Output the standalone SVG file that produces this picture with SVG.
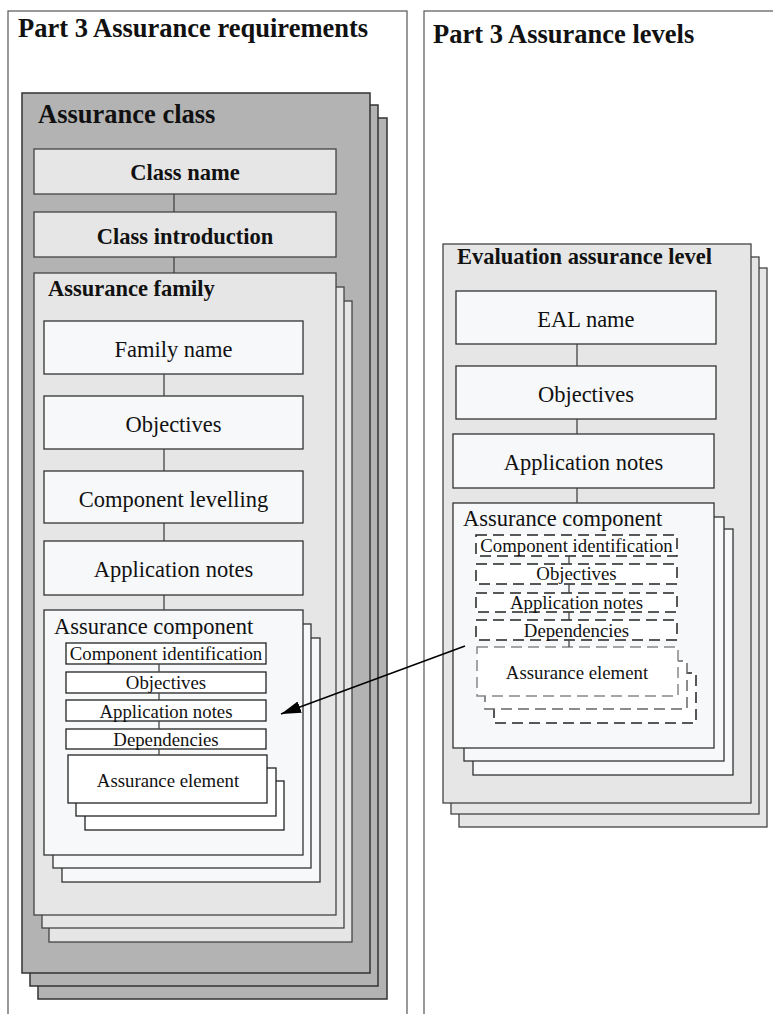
<svg xmlns="http://www.w3.org/2000/svg" width="773" height="1014" viewBox="0 0 773 1014">
<defs>
<style>
.panel{fill:#fff;stroke:#555;stroke-width:1.2}
.cls{fill:#b3b3b3;stroke:#333;stroke-width:1.5}
.fam{fill:#e6e6e6;stroke:#444;stroke-width:1.3}
.lt{fill:#f7f8fa;stroke:#333;stroke-width:1.3}
.wh{fill:#fff;stroke:#222;stroke-width:1.3}
.dsh{fill:#fff;stroke:#222;stroke-width:1.5;stroke-dasharray:11 6}
.con{stroke:#444;stroke-width:1.3;fill:none}
text{font-family:"Liberation Serif","Times New Roman",serif;fill:#111}
.h1{font-size:26.5px;font-weight:bold}
.h2{font-size:22.5px;font-weight:bold}
.r2{font-size:22.5px}
.r3{font-size:18.8px}
.c{text-anchor:middle}
</style>
<marker id="ah" viewBox="0 0 20 12" refX="20" refY="6" markerWidth="20" markerHeight="12" markerUnits="userSpaceOnUse" orient="auto">
<path d="M0,0 L20,6 L0,12 Z" fill="#000"/>
</marker>
</defs>

<g id="panel-left">
<rect class="panel" x="8" y="11" width="399" height="1020"/>
<text class="h1" x="18" y="37">Part 3 Assurance requirements</text>
</g>
<g id="panel-right">
<rect class="panel" x="424" y="11" width="360" height="1020"/>
<text class="h1" x="433" y="43">Part 3 Assurance levels</text>
</g>

<g id="assurance-class">
<rect class="cls" x="38" y="118" width="349" height="881"/>
<rect class="cls" x="30" y="105" width="348" height="881"/>
<rect class="cls" x="22" y="93" width="348" height="880"/>
<text class="h1" x="38" y="123">Assurance class</text>
</g>
<g id="class-name">
<rect class="fam" x="34" y="149" width="302" height="45"/>
<text class="h2 c" x="185" y="180">Class name</text>
</g>
<g id="class-introduction">
<rect class="fam" x="34" y="212" width="302" height="45"/>
<text class="h2 c" x="185" y="244">Class introduction</text>
</g>

<g id="assurance-family">
<rect class="fam" x="49" y="301" width="303" height="641"/>
<rect class="fam" x="42" y="287" width="302" height="641"/>
<rect class="fam" x="34" y="273" width="302" height="642"/>
<text class="h2" x="48" y="296">Assurance family</text>
</g>
<g id="family-name">
<rect class="lt" x="44" y="321" width="259" height="53"/>
<text class="r2 c" x="173.5" y="357">Family name</text>
</g>
<g id="family-objectives">
<rect class="lt" x="44" y="396" width="259" height="53"/>
<text class="r2 c" x="173.5" y="432">Objectives</text>
</g>
<g id="component-levelling">
<rect class="lt" x="44" y="471" width="259" height="52"/>
<text class="r2 c" x="173.5" y="507">Component levelling</text>
</g>
<g id="family-application-notes">
<rect class="lt" x="44" y="541" width="259" height="54"/>
<text class="r2 c" x="173.5" y="577">Application notes</text>
</g>

<g id="assurance-component-left">
<rect class="lt" x="62" y="638" width="258" height="244"/>
<rect class="lt" x="53" y="624" width="258" height="244"/>
<rect class="lt" x="44" y="610" width="259" height="245"/>
<text class="r2" x="54" y="634">Assurance component</text>
</g>
<g id="left-component-identification">
<rect class="wh" x="66" y="643" width="200" height="21"/>
<text class="r3 c" x="166" y="660">Component identification</text>
</g>
<g id="left-objectives">
<rect class="wh" x="66" y="672" width="200" height="21"/>
<text class="r3 c" x="166" y="689">Objectives</text>
</g>
<g id="left-application-notes">
<rect class="wh" x="66" y="700" width="200" height="21"/>
<text class="r3 c" x="166" y="718">Application notes</text>
</g>
<g id="left-dependencies">
<rect class="wh" x="66" y="729" width="200" height="20"/>
<text class="r3 c" x="166" y="746">Dependencies</text>
</g>
<g id="left-assurance-element">
<rect class="wh" x="85" y="781" width="199" height="49"/>
<rect class="wh" x="76" y="768" width="200" height="48"/>
<rect class="wh" x="68" y="755" width="199" height="48"/>
<text class="r3 c" x="168" y="787">Assurance element</text>
</g>

<g id="evaluation-assurance-level">
<rect class="fam" x="459" y="268" width="308" height="559"/>
<rect class="fam" x="451" y="257" width="308" height="557"/>
<rect class="fam" x="443" y="244" width="308" height="559"/>
<text class="h2" x="457" y="264">Evaluation assurance level</text>
</g>
<g id="eal-name">
<rect class="lt" x="456" y="291" width="260" height="53"/>
<text class="r2 c" x="586" y="327">EAL name</text>
</g>
<g id="eal-objectives">
<rect class="lt" x="456" y="366" width="260" height="53"/>
<text class="r2 c" x="586" y="402">Objectives</text>
</g>
<g id="eal-application-notes">
<rect class="lt" x="453" y="434" width="261" height="54"/>
<text class="r2 c" x="583.5" y="470">Application notes</text>
</g>

<g id="assurance-component-right">
<rect class="lt" x="473" y="529" width="260" height="246"/>
<rect class="lt" x="464" y="517" width="260" height="244"/>
<rect class="lt" x="453" y="503" width="261" height="245"/>
<text class="r2" x="463" y="526">Assurance component</text>
</g>
<g id="right-component-identification">
<rect class="dsh" x="476" y="535" width="201" height="21"/>
<text class="r3 c" x="576.5" y="552">Component identification</text>
</g>
<g id="right-objectives">
<rect class="dsh" x="476" y="564" width="201" height="20"/>
<text class="r3 c" x="576.5" y="580">Objectives</text>
</g>
<g id="right-application-notes">
<rect class="dsh" x="476" y="593" width="201" height="19"/>
<text class="r3 c" x="576.5" y="609">Application notes</text>
</g>
<g id="right-dependencies">
<rect class="dsh" x="476" y="620" width="201" height="20"/>
<text class="r3 c" x="576.5" y="637">Dependencies</text>
</g>
<g id="right-assurance-element">
<rect class="dsh" x="494" y="673" width="202" height="50" style="stroke:#222"/>
<rect class="dsh" x="485" y="661" width="202" height="48" style="stroke:#666"/>
<rect class="dsh" x="477" y="647" width="201" height="49" style="stroke:#888"/>
<text class="r3 c" x="577" y="679">Assurance element</text>
</g>

<g id="connectors">
<line class="con" x1="174" y1="194" x2="174" y2="212"/>
<line class="con" x1="174" y1="257" x2="174" y2="273"/>
<line class="con" x1="164" y1="374" x2="164" y2="396"/>
<line class="con" x1="164" y1="449" x2="164" y2="471"/>
<line class="con" x1="164" y1="523" x2="164" y2="541"/>
<line class="con" x1="164" y1="595" x2="164" y2="610"/>
<line class="con" x1="159" y1="664" x2="159" y2="672"/>
<line class="con" x1="159" y1="693" x2="159" y2="700"/>
<line class="con" x1="159" y1="721" x2="159" y2="729"/>
<line class="con" x1="159" y1="749" x2="159" y2="755"/>
<line class="con" x1="577" y1="344" x2="577" y2="366"/>
<line class="con" x1="577" y1="419" x2="577" y2="434"/>
<line class="con" x1="577" y1="488" x2="577" y2="503"/>
<line class="con" x1="569" y1="556" x2="569" y2="564"/>
<line class="con" x1="569" y1="584" x2="569" y2="593"/>
<line class="con" x1="569" y1="612" x2="569" y2="620"/>
<line class="con" x1="569" y1="640" x2="569" y2="647"/>
<line x1="465" y1="646" x2="281" y2="714" stroke="#000" stroke-width="1.5" marker-end="url(#ah)"/>
</g>
</svg>
